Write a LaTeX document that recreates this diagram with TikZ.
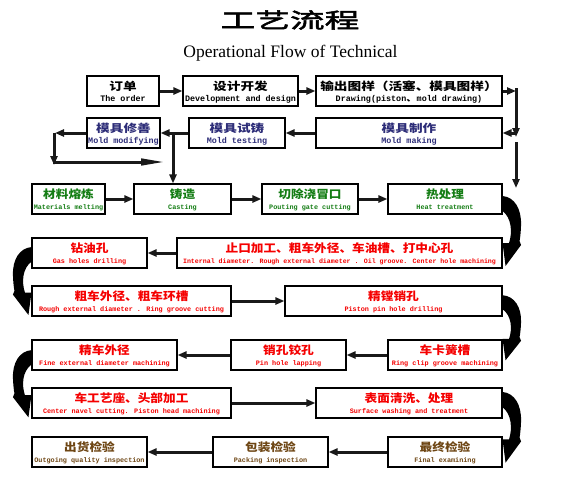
\documentclass[tikz,border=0pt]{standalone}
\usepackage{fontspec}
\usetikzlibrary{arrows.meta,calc}
\newfontfamily\ttlfont[FakeStretch=1.65,FakeBold=2.5]{Noto Sans CJK SC}
\newfontfamily\cnfontA[FakeStretch=1.24]{Noto Sans CJK SC}
\newfontfamily\cnfontB[FakeStretch=1.12]{Noto Sans CJK SC}
\newfontfamily\enfont{Liberation Mono}
\newfontfamily\subfont{Liberation Serif}
\definecolor{navyc}{RGB}{45,45,120}
\definecolor{greenc}{RGB}{20,125,20}
\definecolor{redc}{RGB}{245,0,0}
\definecolor{brownc}{RGB}{110,70,20}
\tikzset{
  box/.style={draw=black, line width=1.1pt, minimum height=30pt, inner sep=0pt, fill=white},
  cnA/.style={font=\cnfontA\bfseries\fontsize{11}{12}\selectfont, inner sep=0pt},
  cnB/.style={font=\cnfontB\bfseries\fontsize{11.3}{12}\selectfont, inner sep=0pt},
  enA/.style={font=\enfont\bfseries\fontsize{8.4}{9}\selectfont, inner sep=0pt},
  enB/.style={font=\enfont\bfseries\fontsize{6.8}{7}\selectfont, inner sep=0pt},
  enC/.style={font=\enfont\bfseries\fontsize{6.6}{7}\selectfont, inner sep=0pt},
  flow/.style={draw=black!90, line width=3pt, -{Triangle[length=9pt,width=7pt]}},
  longflow/.style={draw=black!90, line width=3pt, -{Triangle[length=24pt,width=6.5pt]}},
  pics/curvearrow/.style={code={
    \fill[black] (0,-3) .. controls (12,-2) and (19,10) .. (18.5,26)
      .. controls (18.2,34) and (17.6,39) .. (17,42) -- (18.5,46) -- (3,67)
      -- (0,44) -- (6.5,44) .. controls (10,33) and (9,19) .. (0,12) -- cycle;
  }}
}
% name, cx, cy, width, colour, cnstyle, cjk, enstyle, english
\newcommand\mkbox[9]{%
  \node[box, minimum width=#4pt] (#1) at (#2,#3) {};
  \node[#6, text=#5, anchor=base] (#1-cn) at ($(#1.north)+(0,14.7)$) {#7};
  \node[#8, text=#5, anchor=base] (#1-en) at ($(#1.north)+(0,26)$) {#9};
}
\begin{document}
\begin{tikzpicture}[x=1pt,y=-1pt]
\useasboundingbox[fill=white] (0,0) rectangle (576,488);

\node[font=\ttlfont\fontsize{21}{22}\selectfont, inner sep=0pt] (title) at (290,20) {工艺流程};
\node[font=\subfont\fontsize{17.5}{19}\selectfont, inner sep=0pt, anchor=base] (sub) at (290.5,57.5) {Operational Flow of Technical};

% row 1
\mkbox{o1}{123}{91}{72}{black}{cnA}{订单}{enA}{The order}
\mkbox{o2}{240.5}{91}{115}{black}{cnA}{设计开发}{enA}{Development and design}
\mkbox{o3}{409}{91}{186}{black}{cnA}{输出图样（活塞、模具图样）}{enA}{Drawing(piston{\cnfontA 、}mold drawing)}
% row 2
\mkbox{m1}{123.5}{133}{73}{navyc}{cnA}{模具修善}{enA}{Mold modifying}
\mkbox{m2}{237}{133}{96}{navyc}{cnA}{模具试铸}{enA}{Mold testing}
\mkbox{m3}{409}{133}{186}{navyc}{cnA}{模具制作}{enA}{Mold making}
% row 3
\mkbox{c1}{68.5}{199}{73}{greenc}{cnB}{材料熔炼}{enB}{Materials melting}
\mkbox{c2}{182.5}{199}{97}{greenc}{cnB}{铸造}{enB}{Casting}
\mkbox{c3}{310}{199}{96}{greenc}{cnB}{切除浇冒口}{enB}{Pouting gate cutting}
\mkbox{c4}{445}{199}{114}{greenc}{cnB}{热处理}{enB}{Heat treatment}
% row 4
\mkbox{r1}{89.5}{253}{115}{redc}{cnB}{钻油孔}{enB}{Gas holes drilling}
\mkbox{r2}{339.5}{253}{325}{redc}{cnB}{止口加工、粗车外径、车油槽、打中心孔}{enC}{Internal diameter. Rough external diameter . Oil groove. Center hole machining}
% row 5
\mkbox{r3}{131.5}{301}{199}{redc}{cnB}{粗车外径、粗车环槽}{enB}{Rough external diameter . Ring groove cutting}
\mkbox{r4}{393.5}{301}{217}{redc}{cnB}{精镗销孔}{enB}{Piston pin hole drilling}
% row 6
\mkbox{r5}{104.5}{355}{145}{redc}{cnB}{精车外径}{enB}{Fine external diameter machining}
\mkbox{r6}{288.5}{355}{115}{redc}{cnB}{销孔铰孔}{enB}{Pin hole lapping}
\mkbox{r7}{445}{355}{114}{redc}{cnB}{车卡簧槽}{enB}{Ring clip groove machining}
% row 7
\mkbox{r8}{131.5}{403}{199}{redc}{cnB}{车工艺座、头部加工}{enB}{Center navel cutting. Piston head machining}
\mkbox{r9}{409}{403}{186}{redc}{cnB}{表面清洗、处理}{enB}{Surface washing and treatment}
% row 8
\mkbox{f1}{89.5}{452}{115}{brownc}{cnB}{出货检验}{enB}{Outgoing quality inspection}
\mkbox{f2}{270.5}{452}{115}{brownc}{cnB}{包装检验}{enB}{Packing inspection}
\mkbox{f3}{445}{452}{114}{brownc}{cnB}{最终检验}{enB}{Final examining}

% junction coordinates
\coordinate (jr1) at (516,91);
\coordinate (jr0) at (516,88);
\coordinate (jr2) at (516,137);
\coordinate (jr3) at (516,133);
\coordinate (jr4) at (516,142);
\coordinate (jr5) at (516,188);
\coordinate (jm) at (173,133);
\coordinate (jl1) at (55,133);
\coordinate (jl0) at (54,133);
\coordinate (jl2) at (54,165);
\coordinate (jl3) at (53,162);
\coordinate (jl4) at (165,162);

% row 1 / 2 connectors
\draw[flow] (o1) -- (o2);
\draw[flow] (o2) -- (o3);
\draw[flow] (o3.east |- jr1) -- (jr1);
\draw[flow] (jr0) -- (jr2);
\draw[flow] (jr3) -- (m3.east);
\draw[flow] (jr4) -- (jr5);
\draw[flow] (m3) -- (m2);
\draw[flow] (m2) -- (m1);
\draw[flow] (jm) -- (jm |- c2.north);
\draw[flow] (m1.west) -- (jl1);
\draw[flow] (jl0) -- (jl2);
\draw[longflow] (jl3) -- (jl4);
% row 3
\draw[flow] (c1) -- (c2);
\draw[flow] (c2) -- (c3);
\draw[flow] (c3) -- (c4);
% rows 4-8
\draw[flow] (r2) -- (r1);
\draw[flow] (r3) -- (r4);
\draw[flow] (r7) -- (r6);
\draw[flow] (r6) -- (r5);
\draw[flow] (r8) -- (r9);
\draw[flow] (f3) -- (f2);
\draw[flow] (f2) -- (f1);

% curved connectors
\pic at ($(c4.east)+(0,0)$) {curvearrow};
\pic[yscale=0.93] at ($(r4.east)+(0,-3)$) {curvearrow};
\pic[yscale=1.01] at ($(r9.east)+(0,-8)$) {curvearrow};
\pic[xscale=-1,yscale=0.97] at ($(r1.west)+(0,-3)$) {curvearrow};
\pic[xscale=-1,yscale=0.96] at ($(r5.west)+(0,-2)$) {curvearrow};
\end{tikzpicture}
\end{document}
